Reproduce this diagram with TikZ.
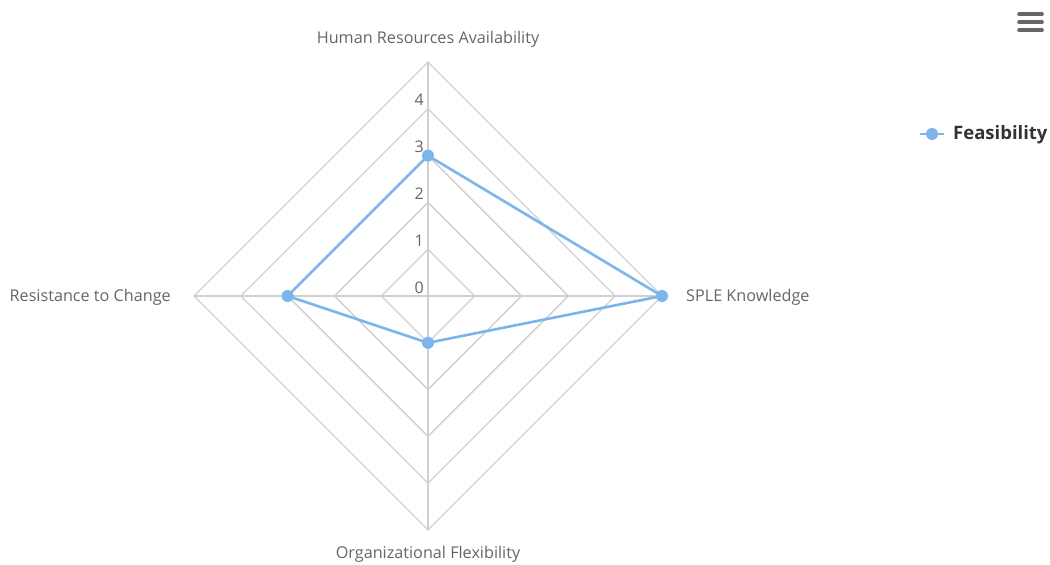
\documentclass[tikz,border=0pt]{standalone}
\usepackage{fontspec}
\setmainfont{Open Sans}
\definecolor{grid}{HTML}{D0D0D0}
\definecolor{series}{HTML}{7CB5EC}
\definecolor{lbl}{HTML}{666666}
\definecolor{dark}{HTML}{333333}
\begin{document}
\begin{tikzpicture}[x=1pt,y=-1pt,
  gridline/.style={draw=grid,line width=1.3pt},
  axislbl/.style={text=lbl,font=\fontsize{16.2}{18}\selectfont,inner sep=0pt},
  ticklbl/.style={text=lbl,font=\fontsize{16}{18}\selectfont,inner sep=0pt,anchor=east},
  serline/.style={draw=series,line width=2.6pt,line join=round},
  dot/.style={circle,fill=series,inner sep=0pt,minimum size=12pt}
]
\useasboundingbox (0,0) rectangle (1050,565);
\fill[white] (0,0) rectangle (1050,565);
% rings
\foreach \r in {1,...,5}{
  \draw[gridline] (428,{296-46.8*\r}) -- ({428+46.8*\r},296) -- (428,{296+46.8*\r}) -- ({428-46.8*\r},296) -- cycle;
}
\coordinate (c) at (428,296);
\coordinate (t) at (428,62);
\coordinate (r) at (662,296);
\coordinate (b) at (428,530);
\coordinate (l) at (194,296);
\draw[gridline] (c) -- (t); \draw[gridline] (c) -- (r);
\draw[gridline] (c) -- (b); \draw[gridline] (c) -- (l);
% tick labels
\node[ticklbl] (k0) at (424,288) {0};
\node[ticklbl] (k1) at (424,241) {1};
\node[ticklbl] (k2) at (424,194) {2};
\node[ticklbl] (k3) at (424,147) {3};
\node[ticklbl] (k4) at (424,100) {4};
% axis labels
\node[axislbl] (ahr) at (428,39.5) {Human Resources Availability};
\node[axislbl,anchor=east] (arc) at (171,297.5) {Resistance to Change};
\node[axislbl,anchor=west] (asp) at (686,297.5) {SPLE Knowledge};
\node[axislbl] (aof) at (428,554.5) {Organizational Flexibility};
% series
\node[dot] (p1) at (428,155.6) {};
\node[dot] (p2) at (662,296) {};
\node[dot] (p3) at (428,342.8) {};
\node[dot] (p4) at (287.6,296) {};
\draw[serline] (p1.center) -- (p2.center) -- (p3.center) -- (p4.center) -- cycle;
% legend
\coordinate (lg1) at (920,134);
\coordinate (lg2) at (944,134);
\draw[draw=series,line width=2.6pt] (lg1) -- (lg2);
\node[dot] (lgd) at (932,134) {};
\node[text=dark,font=\fontsize{18.5}{20}\selectfont\bfseries,anchor=west,inner sep=0pt] (lgt) at (953,134.5) {Feasibility};
% menu icon
\foreach \yy [count=\i] in {14,22,30}{
  \draw[draw=lbl,line width=3.6pt,line cap=round] (1019,\yy) -- (1042,\yy);
}
\end{tikzpicture}
\end{document}
